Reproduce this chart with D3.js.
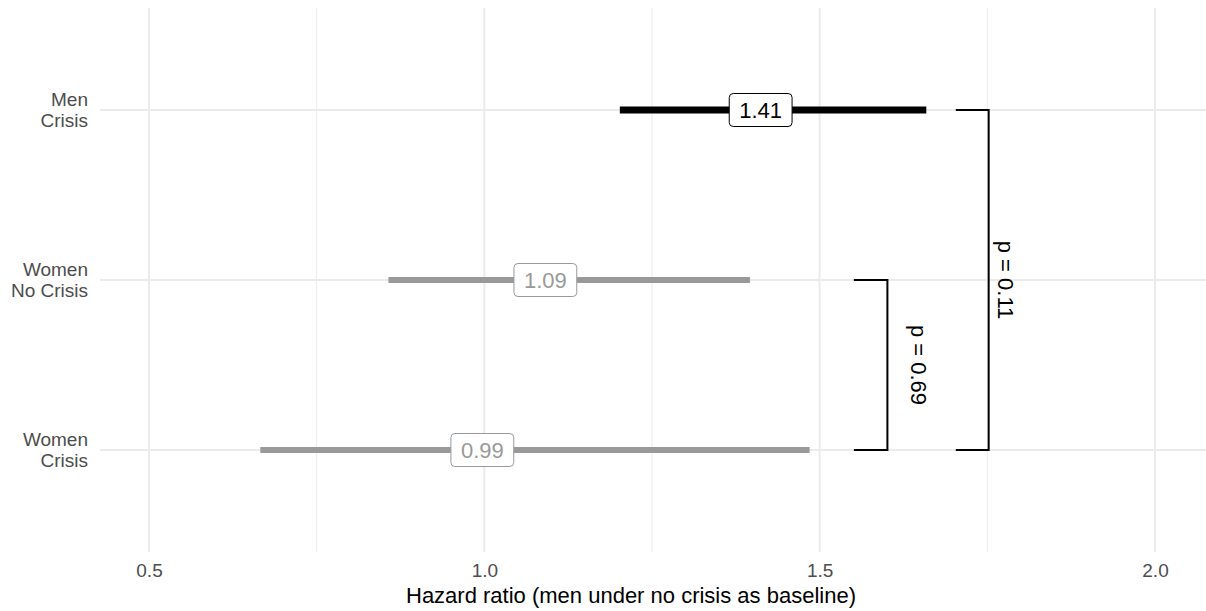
<!DOCTYPE html>
<html>
<head>
<meta charset="utf-8">
<script src="https://cdn.jsdelivr.net/npm/d3@7"></script>
<style>
  html, body { margin: 0; padding: 0; background: #fff; }
  svg { display: block; font-family: "Liberation Sans", Arial, Helvetica, sans-serif; }
</style>
</head>
<body>
<svg id="chart" width="1206" height="611"></svg>
<script>
// ---- data ----
const groups = ["Men\nCrisis", "Women\nNo Crisis", "Women\nCrisis"];
const hr = [1.412, 1.091, 0.997];
const hrLabels = ["1.41", "1.09", "0.99"];
const lower = [1.202, 0.857, 0.666];
const upper = [1.659, 1.396, 1.485];
const isCrisisMen = [true, false, false];
const xTicks = [0.5, 1.0, 1.5, 2.0];
const xMinorTicks = [0.75, 1.25, 1.75];
const xTickLabels = ["0.5", "1.0", "1.5", "2.0"];
// significance brackets: between groups, bracket x-span, text x, label
const brFrom = ["Women\nNo Crisis", "Men\nCrisis"];
const brTo = ["Women\nCrisis", "Women\nCrisis"];
const brX0 = [1.551, 1.703];
const brX1 = [1.601, 1.752];
const brTextX = [1.647, 1.777];
const brLabels = ["p = 0.69", "p = 0.11"];
const xTitle = "Hazard ratio (men under no crisis as baseline)";

// ---- layout ----
const W = 1206, H = 611;
const panel = { left: 100, right: 1206, top: 8, bottom: 552 };
const svg = d3.select("#chart");

const x = d3.scaleLinear()
  .domain([0.5 - 49 / 670.7, 2.0 + 51 / 670.7])
  .range([panel.left, panel.right]);
// discrete y with ggplot-like expansion (0.6 units each side)
const yIdx = d3.scaleLinear().domain([0.4, 3.6]).range([panel.bottom, panel.top]);
const y = g => yIdx(3 - groups.indexOf(g));

// grid
const grid = svg.append("g");
grid.selectAll("line.minor").data(xMinorTicks).join("line")
  .attr("x1", d => x(d)).attr("x2", d => x(d))
  .attr("y1", panel.top).attr("y2", panel.bottom)
  .attr("stroke", "#ebebeb").attr("stroke-width", 1);
grid.selectAll("line.major").data(xTicks).join("line")
  .attr("x1", d => x(d)).attr("x2", d => x(d))
  .attr("y1", panel.top).attr("y2", panel.bottom)
  .attr("stroke", "#ebebeb").attr("stroke-width", 2);
grid.selectAll("line.hmajor").data(groups).join("line")
  .attr("x1", panel.left).attr("x2", panel.right)
  .attr("y1", d => y(d)).attr("y2", d => y(d))
  .attr("stroke", "#ebebeb").attr("stroke-width", 2);

// x axis tick labels
const xAxis = d3.axisBottom(x).tickValues(xTicks)
  .tickFormat((d, i) => xTickLabels[i]).tickSize(0).tickPadding(0);
const xg = svg.append("g").attr("transform", `translate(0,${panel.bottom})`).call(xAxis);
xg.select(".domain").remove();
xg.selectAll("text").attr("font-size", 19).attr("fill", "#4d4d4d")
  .attr("font-family", "Liberation Sans, Arial, sans-serif")
  .attr("dy", null).attr("y", 25);

// y axis labels (two lines, right aligned)
const yg = svg.append("g");
groups.forEach(g => {
  const lines = g.split("\n");
  const t = yg.append("text").attr("text-anchor", "end")
    .attr("font-size", 19).attr("fill", "#4d4d4d");
  lines.forEach((ln, i) => {
    t.append("tspan").attr("x", 88).attr("y", y(g) - 4 + i * 21).text(ln);
  });
});

// x title
svg.append("text").attr("x", 631).attr("y", 603).attr("text-anchor", "middle")
  .attr("font-size", 22).attr("fill", "#000").text(xTitle);

// CI bars
const marks = svg.append("g");
groups.forEach((g, i) => {
  const col = isCrisisMen[i] ? "#000000" : "#999999";
  marks.append("line")
    .attr("x1", x(lower[i])).attr("x2", x(upper[i]))
    .attr("y1", y(g)).attr("y2", y(g))
    .attr("stroke", col).attr("stroke-width", isCrisisMen[i] ? 7 : 6);
});

// labels
groups.forEach((g, i) => {
  const col = isCrisisMen[i] ? "#000000" : "#999999";
  const lg = marks.append("g");
  const txt = lg.append("text")
    .attr("x", x(hr[i])).attr("y", y(g) + 8)
    .attr("text-anchor", "middle").attr("font-size", 22).attr("fill", col)
    .text(hrLabels[i]);
  const bb = txt.node().getBBox();
  lg.insert("rect", "text")
    .attr("x", x(hr[i]) - bb.width / 2 - 10).attr("y", y(g) - 16.5)
    .attr("width", bb.width + 20).attr("height", 33)
    .attr("rx", 4).attr("ry", 4)
    .attr("fill", "#fff").attr("stroke", col).attr("stroke-width", 1);
});

// significance brackets
const br = svg.append("g");
brLabels.forEach((lab, i) => {
  const ya = y(brFrom[i]), yb = y(brTo[i]);
  const xa = x(brX0[i]), xb = x(brX1[i]);
  br.append("path")
    .attr("d", `M${xa},${ya}H${xb}V${yb}H${xa}`)
    .attr("fill", "none").attr("stroke", "#000").attr("stroke-width", 2);
  const cx = x(brTextX[i]), cy = (ya + yb) / 2;
  br.append("text")
    .attr("transform", `translate(${cx},${cy}) rotate(90)`)
    .attr("text-anchor", "middle").attr("dominant-baseline", "central")
    .attr("font-size", 22).attr("fill", "#000").text(lab);
});
</script>
</body>
</html>
